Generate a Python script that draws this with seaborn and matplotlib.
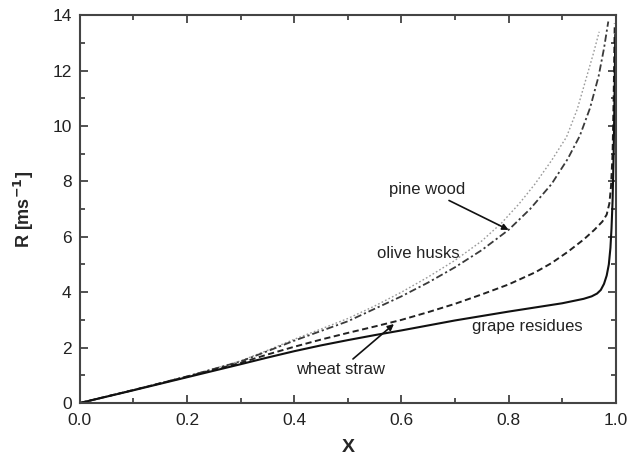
import matplotlib
matplotlib.use("Agg")
import matplotlib.pyplot as plt
import seaborn as sns
import pandas as pd
from matplotlib.ticker import MultipleLocator

# Conversion X versus reactivity R for four biomass chars
x_grape = [0, 0.1, 0.2, 0.3, 0.35, 0.4, 0.45, 0.5, 0.55, 0.6, 0.7, 0.8, 0.9,
           0.94, 0.955, 0.965, 0.972, 0.978, 0.983, 0.987, 0.99, 0.992,
           0.994, 0.996, 0.998, 0.999]
r_grape = [0, 0.46, 0.93, 1.40, 1.64, 1.87, 2.08, 2.27, 2.45, 2.62, 2.98, 3.3,
           3.6, 3.76, 3.85, 3.95, 4.08, 4.3, 4.6, 5.0, 5.6, 6.3, 7.3, 9.0,
           11.5, 13.3]

x_wheat = [0, 0.1, 0.2, 0.3, 0.35, 0.4, 0.45, 0.5, 0.55, 0.6, 0.65, 0.7,
           0.75, 0.8, 0.85, 0.88, 0.91, 0.94, 0.96, 0.975, 0.983, 0.988,
           0.991, 0.994, 0.996, 0.998]
r_wheat = [0, 0.47, 0.95, 1.45, 1.75, 2.03, 2.29, 2.53, 2.76, 3.0, 3.28, 3.58,
           3.92, 4.28, 4.72, 5.05, 5.45, 5.9, 6.25, 6.55, 6.8, 7.2, 7.8, 9.0,
           11.0, 13.7]

x_pine = [0, 0.1, 0.2, 0.3, 0.35, 0.4, 0.45, 0.5, 0.55, 0.6, 0.65, 0.7, 0.75,
          0.8, 0.84, 0.88, 0.91, 0.933, 0.952, 0.968, 0.978, 0.986]
r_pine = [0, 0.47, 0.96, 1.5, 1.87, 2.25, 2.6, 2.95, 3.4, 3.85, 4.35, 4.9,
          5.52, 6.25, 7.0, 7.9, 8.8, 9.65, 10.65, 11.8, 12.8, 13.77]

x_olive = [0, 0.1, 0.2, 0.3, 0.35, 0.4, 0.45, 0.5, 0.55, 0.6, 0.65, 0.7, 0.75,
           0.787, 0.82, 0.849, 0.88, 0.908, 0.928, 0.946, 0.958, 0.969]
r_olive = [0, 0.47, 0.96, 1.52, 1.9, 2.3, 2.67, 3.05, 3.5, 4.0, 4.55, 5.15,
           5.85, 6.5, 7.2, 7.9, 8.75, 9.6, 10.6, 11.8, 12.6, 13.4]

labels = ["olive husks", "pine wood", "wheat straw", "grape residues"]

series = {
    "olive husks": (x_olive, r_olive),
    "pine wood": (x_pine, r_pine),
    "wheat straw": (x_wheat, r_wheat),
    "grape residues": (x_grape, r_grape),
}
styles = {
    "olive husks": dict(color="#9a9a9a", lw=1.0, dashes=(1.2, 1.6)),
    "pine wood": dict(color="#3a3a3a", lw=1.3, dashes=(4, 1.6, 1.2, 1.6)),
    "wheat straw": dict(color="#222222", lw=1.4, dashes=(3.2, 1.8)),
    "grape residues": dict(color="#111111", lw=1.5, dashes=None),
}

sns.set_style("ticks")
plt.rcParams["font.family"] = ["Liberation Sans", "DejaVu Sans"]

fig = plt.figure(figsize=(6.29, 4.59), dpi=100)
ax = fig.add_axes([0.127, 0.122, 0.852, 0.845])

for name in labels:
    xs, ys = series[name]
    df = pd.DataFrame({"X": xs, "R": ys})
    st = styles[name]
    sns.lineplot(data=df, x="X", y="R", ax=ax, color=st["color"],
                 linewidth=st["lw"], estimator=None, sort=False)
    ln = ax.lines[-1]
    if st["dashes"] is not None:
        ln.set_dashes(st["dashes"])
    ln.set_solid_joinstyle("round")

ax.set_xlim(0, 1.0)
ax.set_ylim(0, 14)
ax.xaxis.set_minor_locator(MultipleLocator(0.1))
ax.yaxis.set_major_locator(MultipleLocator(2))
ax.yaxis.set_minor_locator(MultipleLocator(1))
ax.set_xticks([0, 0.2, 0.4, 0.6, 0.8, 1.0])
ax.set_xticklabels(["0.0", "0.2", "0.4", "0.6", "0.8", "1.0"])
ax.tick_params(which="both", direction="in", top=True, right=True,
               colors="#333333", labelcolor="#222222", width=1.2)
ax.tick_params(which="major", length=6, labelsize=12.5)
ax.tick_params(axis="x", which="major", pad=7)
ax.tick_params(axis="y", which="major", pad=6)
ax.tick_params(which="minor", length=3.5)
for sp in ax.spines.values():
    sp.set_color("#444444")
    sp.set_linewidth(1.5)

ax.set_xlabel("X", fontsize=14, fontweight="bold", labelpad=8)
ax.set_ylabel("R [ms$^{\\mathbf{-1}}$]", fontsize=13, fontweight="bold", labelpad=12)

txt = dict(fontsize=12, color="#222222", ha="center", va="center")
arrow = dict(arrowstyle="-|>", color="#111111", lw=1.2, mutation_scale=9,
             shrinkA=0, shrinkB=0)
ax.annotate("pine wood", xy=(0.80, 6.25), xytext=(0.648, 7.7),
            arrowprops=arrow, **txt)
ax.annotate("wheat straw", xy=(0.586, 2.85), xytext=(0.486, 1.2),
            arrowprops=arrow, **txt)
ax.text(0.632, 5.38, "olive husks", **txt)
ax.text(0.834, 2.75, "grape residues", **txt)

fig.savefig("out.png", dpi=100)
